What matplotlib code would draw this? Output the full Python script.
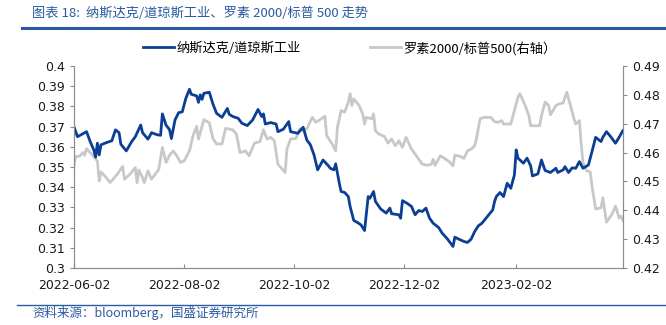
import pandas as pd
import matplotlib
matplotlib.use("Agg")
import matplotlib.pyplot as plt
import matplotlib.dates as mdates

plt.rcParams['font.family'] = ['Noto Sans CJK SC', 'DejaVu Sans']

# 纳斯达克/道琼斯工业 (left axis)
ndx_dates = [
    "2022-06-02", "2022-06-04", "2022-06-06", "2022-06-09", "2022-06-11", "2022-06-13", "2022-06-14",
    "2022-06-15", "2022-06-16", "2022-06-17", "2022-06-20", "2022-06-23", "2022-06-25", "2022-06-27",
    "2022-06-28", "2022-07-01", "2022-07-04", "2022-07-06", "2022-07-09", "2022-07-10", "2022-07-13",
    "2022-07-15", "2022-07-18", "2022-07-20", "2022-07-21", "2022-07-23", "2022-07-25", "2022-07-26",
    "2022-07-28", "2022-07-30", "2022-08-01", "2022-08-03", "2022-08-05", "2022-08-06", "2022-08-09",
    "2022-08-10", "2022-08-11", "2022-08-12", "2022-08-13", "2022-08-16", "2022-08-18", "2022-08-20",
    "2022-08-23", "2022-08-26", "2022-08-27", "2022-08-29", "2022-09-01", "2022-09-03", "2022-09-06",
    "2022-09-09", "2022-09-12", "2022-09-14", "2022-09-15", "2022-09-16", "2022-09-19", "2022-09-22",
    "2022-09-23", "2022-09-26", "2022-09-29", "2022-09-30", "2022-10-04", "2022-10-07", "2022-10-09",
    "2022-10-11", "2022-10-13", "2022-10-15", "2022-10-18", "2022-10-21", "2022-10-22", "2022-10-24",
    "2022-10-25", "2022-10-27", "2022-10-28", "2022-10-30", "2022-11-01", "2022-11-02", "2022-11-04",
    "2022-11-06", "2022-11-08", "2022-11-10", "2022-11-12", "2022-11-13", "2022-11-15", "2022-11-16",
    "2022-11-19", "2022-11-22", "2022-11-24", "2022-11-25", "2022-11-29", "2022-11-30", "2022-12-01",
    "2022-12-04", "2022-12-06", "2022-12-08", "2022-12-10", "2022-12-12", "2022-12-14", "2022-12-16",
    "2022-12-18", "2022-12-21", "2022-12-23", "2022-12-26", "2022-12-29", "2022-12-30", "2023-01-02",
    "2023-01-04", "2023-01-06", "2023-01-08", "2023-01-10", "2023-01-12", "2023-01-14", "2023-01-17",
    "2023-01-20", "2023-01-21", "2023-01-22", "2023-01-24", "2023-01-26", "2023-01-28", "2023-01-30",
    "2023-02-01", "2023-02-02", "2023-02-03", "2023-02-06", "2023-02-08", "2023-02-10", "2023-02-11",
    "2023-02-14", "2023-02-16", "2023-02-18", "2023-02-21", "2023-02-24", "2023-02-25", "2023-02-28",
    "2023-03-01", "2023-03-03", "2023-03-05", "2023-03-07", "2023-03-09", "2023-03-11", "2023-03-14",
    "2023-03-16", "2023-03-18", "2023-03-21", "2023-03-22", "2023-03-24", "2023-03-26", "2023-03-29",
    "2023-03-31", "2023-04-02",
]
ndx_dji = [
    0.3700, 0.3650, 0.3660, 0.3675, 0.3626, 0.3585, 0.3549,
    0.3618, 0.3560, 0.3610, 0.3621, 0.3630, 0.3684, 0.3670,
    0.3613, 0.3580, 0.3626, 0.3650, 0.3708, 0.3670, 0.3638,
    0.3670, 0.3660, 0.3657, 0.3763, 0.3708, 0.3684, 0.3641,
    0.3733, 0.3769, 0.3773, 0.3840, 0.3885, 0.3860, 0.3852,
    0.3820, 0.3857, 0.3835, 0.3865, 0.3870, 0.3812, 0.3766,
    0.3746, 0.3790, 0.3761, 0.3750, 0.3741, 0.3717, 0.3705,
    0.3733, 0.3785, 0.3750, 0.3763, 0.3713, 0.3720, 0.3713,
    0.3675, 0.3687, 0.3725, 0.3675, 0.3667, 0.3697, 0.3634,
    0.3610, 0.3560, 0.3486, 0.3535, 0.3506, 0.3494, 0.3486,
    0.3516, 0.3420, 0.3379, 0.3374, 0.3354, 0.3305, 0.3236,
    0.3226, 0.3214, 0.3186, 0.3354, 0.3346, 0.3379, 0.3330,
    0.3292, 0.3272, 0.3297, 0.3269, 0.3264, 0.3247, 0.3334,
    0.3318, 0.3305, 0.3264, 0.3285, 0.3280, 0.3297, 0.3247,
    0.3222, 0.3201, 0.3173, 0.3143, 0.3107, 0.3153, 0.3140,
    0.3132, 0.3127, 0.3143, 0.3181, 0.3209, 0.3222, 0.3255,
    0.3288, 0.3329, 0.3354, 0.3374, 0.3354, 0.3420, 0.3395,
    0.3461, 0.3585, 0.3544, 0.3519, 0.3544, 0.3506, 0.3456,
    0.3466, 0.3535, 0.3483, 0.3473, 0.3494, 0.3473, 0.3486,
    0.3502, 0.3473, 0.3496, 0.3494, 0.3527, 0.3494, 0.3510,
    0.3577, 0.3647, 0.3626, 0.3647, 0.3675, 0.3654, 0.3618,
    0.3647, 0.3679,
]

# 罗素2000/标普500 (right axis)
rut_dates = [
    "2022-06-02", "2022-06-03", "2022-06-05", "2022-06-07", "2022-06-08", "2022-06-09", "2022-06-11",
    "2022-06-13", "2022-06-15", "2022-06-16", "2022-06-17", "2022-06-20", "2022-06-22", "2022-06-26",
    "2022-06-29", "2022-06-30", "2022-07-03", "2022-07-06", "2022-07-07", "2022-07-08", "2022-07-10",
    "2022-07-11", "2022-07-13", "2022-07-15", "2022-07-17", "2022-07-19", "2022-07-21", "2022-07-23",
    "2022-07-25", "2022-07-27", "2022-07-29", "2022-07-31", "2022-08-02", "2022-08-05", "2022-08-07",
    "2022-08-09", "2022-08-10", "2022-08-13", "2022-08-16", "2022-08-18", "2022-08-20", "2022-08-23",
    "2022-08-25", "2022-08-29", "2022-08-31", "2022-09-02", "2022-09-05", "2022-09-07", "2022-09-10",
    "2022-09-13", "2022-09-15", "2022-09-17", "2022-09-19", "2022-09-21", "2022-09-23", "2022-09-27",
    "2022-09-28", "2022-09-30", "2022-10-03", "2022-10-05", "2022-10-07", "2022-10-09", "2022-10-12",
    "2022-10-14", "2022-10-17", "2022-10-19", "2022-10-20", "2022-10-23", "2022-10-25", "2022-10-26",
    "2022-10-28", "2022-10-30", "2022-11-01", "2022-11-02", "2022-11-03", "2022-11-04", "2022-11-07",
    "2022-11-09", "2022-11-10", "2022-11-11", "2022-11-14", "2022-11-15", "2022-11-16", "2022-11-18",
    "2022-11-21", "2022-11-23", "2022-11-25", "2022-11-27", "2022-11-29", "2022-12-01", "2022-12-03",
    "2022-12-06", "2022-12-08", "2022-12-10", "2022-12-12", "2022-12-15", "2022-12-17", "2022-12-18",
    "2022-12-19", "2022-12-22", "2022-12-25", "2022-12-27", "2022-12-29", "2022-12-30", "2023-01-02",
    "2023-01-04", "2023-01-06", "2023-01-08", "2023-01-10", "2023-01-11", "2023-01-13", "2023-01-15",
    "2023-01-19", "2023-01-21", "2023-01-23", "2023-01-25", "2023-01-26", "2023-01-28", "2023-01-30",
    "2023-02-01", "2023-02-03", "2023-02-04", "2023-02-07", "2023-02-09", "2023-02-10", "2023-02-13",
    "2023-02-15", "2023-02-16", "2023-02-18", "2023-02-20", "2023-02-21", "2023-02-24", "2023-02-26",
    "2023-02-28", "2023-03-02", "2023-03-04", "2023-03-06", "2023-03-07", "2023-03-09", "2023-03-10",
    "2023-03-11", "2023-03-13", "2023-03-15", "2023-03-16", "2023-03-18", "2023-03-21", "2023-03-22",
    "2023-03-24", "2023-03-27", "2023-03-29", "2023-03-31", "2023-04-01", "2023-04-02",
]
rut_spx = [
    0.4554, 0.4587, 0.4587, 0.4600, 0.4591, 0.4614, 0.4600,
    0.4587, 0.4571, 0.4502, 0.4533, 0.4513, 0.4496, 0.4525,
    0.4552, 0.4508, 0.4525, 0.4548, 0.4496, 0.4540, 0.4513,
    0.4496, 0.4537, 0.4508, 0.4525, 0.4542, 0.4618, 0.4566,
    0.4591, 0.4606, 0.4589, 0.4566, 0.4571, 0.4606, 0.4659,
    0.4691, 0.4647, 0.4714, 0.4703, 0.4649, 0.4630, 0.4630,
    0.4684, 0.4679, 0.4664, 0.4600, 0.4606, 0.4589, 0.4633,
    0.4638, 0.4679, 0.4647, 0.4653, 0.4641, 0.4560, 0.4531,
    0.4612, 0.4647, 0.4649, 0.4682, 0.4676, 0.4682, 0.4722,
    0.4705, 0.4717, 0.4726, 0.4659, 0.4630, 0.4606, 0.4688,
    0.4746, 0.4740, 0.4775, 0.4804, 0.4763, 0.4786, 0.4763,
    0.4734, 0.4699, 0.4722, 0.4717, 0.4734, 0.4676, 0.4664,
    0.4656, 0.4633, 0.4647, 0.4624, 0.4641, 0.4618, 0.4653,
    0.4612, 0.4595, 0.4577, 0.4560, 0.4556, 0.4560, 0.4577,
    0.4556, 0.4589, 0.4577, 0.4568, 0.4554, 0.4591, 0.4587,
    0.4580, 0.4606, 0.4612, 0.4624, 0.4649, 0.4717, 0.4722,
    0.4722, 0.4707, 0.4705, 0.4711, 0.4699, 0.4699, 0.4699,
    0.4746, 0.4792, 0.4804, 0.4763, 0.4728, 0.4693, 0.4693,
    0.4693, 0.4728, 0.4775, 0.4763, 0.4731, 0.4763, 0.4769,
    0.4772, 0.4809, 0.4765, 0.4717, 0.4699, 0.4711, 0.4630,
    0.4566, 0.4537, 0.4533, 0.4484, 0.4405, 0.4409, 0.4444,
    0.4359, 0.4386, 0.4415, 0.4374, 0.4380, 0.4366,
]

x_ticks = ["2022-06-02", "2022-08-02", "2022-10-02", "2022-12-02", "2023-02-02"]
left_ticks = [0.3, 0.31, 0.32, 0.33, 0.34, 0.35, 0.36, 0.37, 0.38, 0.39, 0.4]
right_ticks = [0.42, 0.43, 0.44, 0.45, 0.46, 0.47, 0.48, 0.49]

title = "图表 18:  纳斯达克/道琼斯工业、罗素 2000/标普 500 走势"
source = "资料来源：bloomberg，国盛证券研究所"
name_ndx = "纳斯达克/道琼斯工业"
name_rut = "罗素2000/标普500(右轴）"

blue = "#0B3F93"
gray = "#C8C8C8"
head = "#2A5AA0"
axis_c = "#8C8C8C"

fig = plt.figure(figsize=(6.66, 3.25), dpi=100)
ax = fig.add_axes([0.111, 0.175, 0.824, 0.622])
ax2 = ax.twinx()

ax2.plot(pd.to_datetime(rut_dates), rut_spx, color=gray, lw=2.0, label=name_rut)
ax.plot(pd.to_datetime(ndx_dates), ndx_dji, color=blue, lw=2.0, label=name_ndx)
ax.set_zorder(ax2.get_zorder() + 1)
ax.patch.set_visible(False)

ax.set_xlim(pd.Timestamp("2022-06-02"), pd.Timestamp("2023-04-02"))
ax.set_ylim(0.3, 0.4)
ax2.set_ylim(0.42, 0.49)
ax.set_yticks(left_ticks)
ax.set_yticklabels([f"{v:g}" for v in left_ticks])
ax2.set_yticks(right_ticks)
ax2.set_yticklabels([f"{v:g}" for v in right_ticks])
ax.set_xticks(pd.to_datetime(x_ticks))
ax.xaxis.set_major_formatter(mdates.DateFormatter("%Y-%m-%d"))

for a in (ax, ax2):
    a.spines["top"].set_visible(False)
    for s in ("left", "right", "bottom"):
        a.spines[s].set_color(axis_c)
        a.spines[s].set_linewidth(0.8)
    a.tick_params(axis="y", labelsize=9, colors=axis_c, labelcolor="#1a1a1a", length=3, width=0.8)
    for lab in a.get_yticklabels():
        lab.set_fontfamily("DejaVu Sans")
ax.tick_params(axis="x", direction="in", labelsize=9, colors=axis_c, labelcolor="#1a1a1a",
               length=3, width=0.8, pad=8)
for lab in ax.get_xticklabels():
    lab.set_fontfamily("DejaVu Sans")

h1, l1 = ax.get_legend_handles_labels()
h2, l2 = ax2.get_legend_handles_labels()
fig.legend(h1 + h2, l1 + l2, loc="center", bbox_to_anchor=(0.525, 0.852), ncol=2, frameon=False,
           fontsize=9.5, handlelength=2.35, handletextpad=0.2, columnspacing=5.2)

fig.text(0.048, 0.96, title, color=head, fontsize=9.5, style="italic", va="center", ha="left")
fig.add_artist(plt.Line2D([0.033, 1.0], [0.913, 0.913], color=head, lw=2.2))
fig.add_artist(plt.Line2D([0.025, 1.0], [0.062, 0.062], color=head, lw=1.0))
fig.text(0.048, 0.036, source, color=head, fontsize=9, style="italic", va="center", ha="left")

fig.savefig("out.png", dpi=100)
